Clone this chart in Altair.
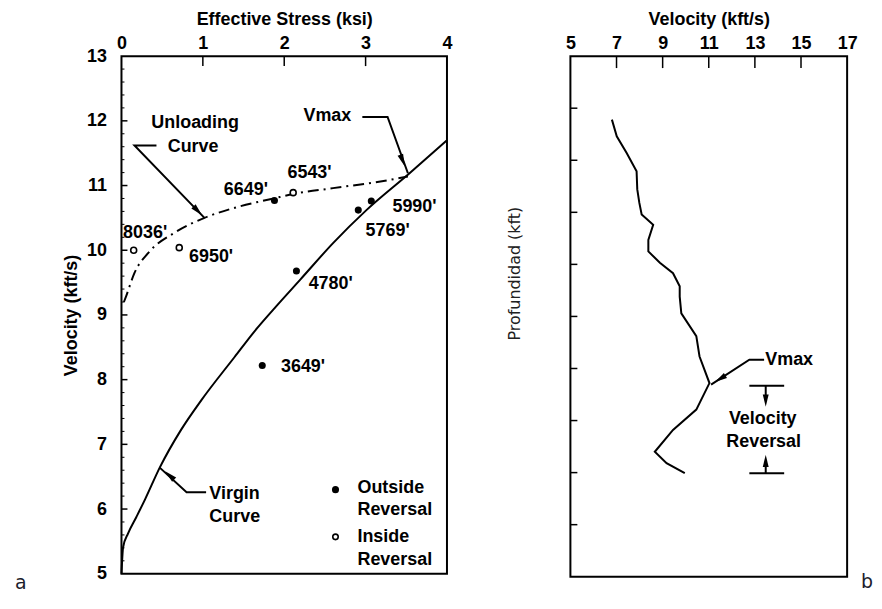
import altair as alt
import pandas as pd

FONT = "Liberation Sans"
FS = 18

# ---------------- Panel a data ----------------
virgin_s = [0.0, 0.02, 0.08, 0.18, 0.29, 0.47, 0.73, 0.98, 1.39, 1.63, 1.92, 2.20, 2.60, 3.01, 3.54, 4.0]
virgin_v = [5.0, 5.41, 5.62, 5.87, 6.15, 6.64, 7.22, 7.68, 8.35, 8.74, 9.16, 9.55, 10.11, 10.62, 11.19, 11.70]

unload_s = [0.03, 0.06, 0.16, 0.33, 0.65, 1.02, 1.46, 1.87, 2.11, 2.60, 3.22, 3.52]
unload_v = [9.20, 9.30, 9.65, 9.96, 10.27, 10.50, 10.68, 10.80, 10.87, 10.96, 11.07, 11.14]

out_names = ["6649'", "5990'", "5769'", "4780'", "3649'"]
out_s = [1.88, 3.07, 2.91, 2.15, 1.73]
out_v = [10.77, 10.76, 10.62, 9.68, 8.22]

in_names = ["6543'", "8036'", "6950'"]
in_s = [2.11, 0.15, 0.71]
in_v = [10.89, 10.00, 10.04]

# label anchors (data coordinates)
lab_names = ["6649'", "6543'", "5990'", "5769'", "8036'", "6950'", "4780'", "3649'"]
lab_s = [1.80, 2.04, 3.33, 3.00, 0.02, 0.83, 2.30, 1.96]
lab_v = [10.93, 11.19, 10.67, 10.29, 10.27, 9.90, 9.48, 8.20]
lab_align = ["right", "left", "left", "left", "left", "left", "left", "left"]

ann_a_text = ["Unloading", "Curve", "Vmax", "Virgin", "Curve", "Outside", "Reversal", "Inside", "Reversal"]
ann_a_s = [0.905, 0.88, 2.53, 1.08, 1.08, 2.90, 2.90, 2.90, 2.90]
ann_a_v = [11.97, 11.59, 12.08, 6.23, 5.87, 6.33, 5.98, 5.57, 5.21]
ann_a_align = ["center", "center", "center", "left", "left", "left", "left", "left", "left"]

lead_a_grp = ["U", "U", "U", "M", "M", "M", "G", "G", "G"]
lead_a_s = [0.43, 0.16, 1.02, 2.96, 3.27, 3.52, 1.04, 0.80, 0.47]
lead_a_v = [11.62, 11.62, 10.50, 12.06, 12.06, 11.19, 6.26, 6.26, 6.64]

head_a_s = [0.93, 3.45, 0.60]
head_a_v = [10.62, 11.40, 6.51]
head_a_ang = [136, 159, 313]

leg_s = [2.63, 2.63]
leg_v = [6.30, 5.57]
leg_kind = ["Outside Reversal", "Inside Reversal"]

xa_ticks = [0, 1, 2, 3, 4]
ya_ticks = [5, 6, 7, 8, 9, 10, 11, 12, 13]
xa_inner = [1, 2, 3]
ya_inner = [6, 7, 8, 9, 10, 11, 12]
ya_minor = [5.2, 5.4, 5.6, 5.8, 6.2, 6.4, 6.6, 6.8, 7.2, 7.4, 7.6, 7.8,
            8.2, 8.4, 8.6, 8.8, 9.2, 9.4, 9.6, 9.8, 10.2, 10.4, 10.6, 10.8,
            11.2, 11.4, 11.6, 11.8, 12.2, 12.4, 12.6, 12.8]

# ---------------- Panel b data ----------------
prof_v = [6.80, 7.01, 7.44, 7.87, 7.90, 7.99, 8.09, 8.59, 8.38, 8.38, 8.88, 9.45, 9.74,
          9.74, 9.81, 10.46, 10.60, 11.03, 10.46, 9.45, 8.66, 9.17, 9.96]
prof_d = [1.22, 1.54, 1.86, 2.21, 2.56, 2.82, 3.04, 3.24, 3.53, 3.75, 3.97, 4.17, 4.42,
          4.62, 4.94, 5.38, 5.77, 6.28, 6.79, 7.18, 7.60, 7.82, 8.01]

lead_b_grp = ["V", "V", "V", "T", "T", "B", "B", "S1", "S1", "S2", "S2"]
lead_b_v = [11.10, 12.76, 13.40, 12.76, 14.27, 12.76, 14.27, 13.47, 13.47, 13.47, 13.47]
lead_b_d = [6.31, 5.83, 5.83, 6.33, 6.33, 8.01, 8.01, 6.33, 6.60, 8.01, 7.79]

head_b_v = [11.53, 13.47, 13.47]
head_b_d = [6.19, 6.60, 7.79]
head_b_ang = [238, 180, 0]

ann_b_text = ["Vmax", "Velocity", "Reversal"]
ann_b_v = [13.45, 13.34, 13.38]
ann_b_d = [5.83, 6.98, 7.42]
ann_b_align = ["left", "center", "center"]

xb_ticks = [5, 7, 9, 11, 13, 15, 17]
xb_inner = [7, 9, 11, 13, 15]
yb_inner = [1, 2, 3, 4, 5, 6, 7, 8, 9]

ARROW = "M0,-1L0.42,0.75L-0.42,0.75Z"

# ---------------- encodings ----------------
axis_common = dict(tickSize=0, domain=False, grid=False, labelFlush=False,
                   labelFont=FONT, labelFontSize=FS, labelFontWeight="bold", labelColor="black",
                   titleFont=FONT, titleFontSize=FS, titleFontWeight="bold", titleColor="black")

XA = alt.Axis(orient="top", values=xa_ticks, title="Effective Stress (ksi)", format="d",
              labelPadding=4, titlePadding=6, **axis_common)
YA = alt.Axis(orient="left", values=ya_ticks, title="Velocity (kft/s)", format="d",
              labelPadding=15, titlePadding=6, **axis_common)
sxa = alt.Scale(domain=[0, 4], nice=False, zero=False)
sya = alt.Scale(domain=[5, 13], nice=False, zero=False)


def XAe(f):
    return alt.X(f, type="quantitative", scale=sxa, axis=XA)


def YAe(f):
    return alt.Y(f, type="quantitative", scale=sya, axis=YA)


virgin = pd.DataFrame({"s": virgin_s, "v": virgin_v})
unload = pd.DataFrame({"s": unload_s, "v": unload_v})
outs = pd.DataFrame({"s": out_s, "v": out_v, "n": out_names})
ins = pd.DataFrame({"s": in_s, "v": in_v, "n": in_names})
labs = pd.DataFrame({"s": lab_s, "v": lab_v, "n": lab_names, "al": lab_align})
anns = pd.DataFrame({"s": ann_a_s, "v": ann_a_v, "t": ann_a_text, "al": ann_a_align})
leads = pd.DataFrame({"s": lead_a_s, "v": lead_a_v, "g": lead_a_grp, "i": list(range(len(lead_a_s)))})
heads = pd.DataFrame({"s": head_a_s, "v": head_a_v, "ang": head_a_ang})
leg = pd.DataFrame({"s": leg_s, "v": leg_v, "k": leg_kind})

txt = dict(font=FONT, fontSize=FS, fontWeight="bold", baseline="middle", color="black")

l_virgin = alt.Chart(virgin).mark_line(color="black", strokeWidth=2, interpolate="monotone").encode(
    x=XAe("s"), y=YAe("v"))
l_unload = alt.Chart(unload).mark_line(color="black", strokeWidth=2, strokeDash=[11, 5, 2, 5],
                                       interpolate="monotone").encode(x=XAe("s"), y=YAe("v"))
p_out = alt.Chart(outs).mark_point(filled=True, color="black", size=50, opacity=1).encode(x=XAe("s"), y=YAe("v"))
p_in = alt.Chart(ins).mark_point(filled=True, fill="white", stroke="black", strokeWidth=1.6, size=36,
                                 opacity=1).encode(x=XAe("s"), y=YAe("v"))
t_lab_r = alt.Chart(labs[labs.al == "right"]).mark_text(align="right", **txt).encode(
    x=XAe("s"), y=YAe("v"), text="n")
t_lab_l = alt.Chart(labs[labs.al == "left"]).mark_text(align="left", **txt).encode(
    x=XAe("s"), y=YAe("v"), text="n")
t_ann_c = alt.Chart(anns[anns.al == "center"]).mark_text(align="center", **txt).encode(
    x=XAe("s"), y=YAe("v"), text="t")
t_ann_l = alt.Chart(anns[anns.al == "left"]).mark_text(align="left", **txt).encode(
    x=XAe("s"), y=YAe("v"), text="t")
l_leads = alt.Chart(leads).mark_line(color="black", strokeWidth=2).encode(
    x=XAe("s"), y=YAe("v"), detail="g", order="i")
p_heads = alt.Chart(heads).mark_point(shape=ARROW, filled=True, color="black", size=200, opacity=1).encode(
    x=XAe("s"), y=YAe("v"), angle=alt.Angle("ang", type="quantitative", scale=None))
p_leg_out = alt.Chart(leg[leg.k == "Outside Reversal"]).mark_point(filled=True, color="black", size=50,
                                                                     opacity=1).encode(x=XAe("s"), y=YAe("v"))
p_leg_in = alt.Chart(leg[leg.k == "Inside Reversal"]).mark_point(filled=True, fill="white", stroke="black",
                                                                   strokeWidth=1.6, size=30, opacity=1).encode(
    x=XAe("s"), y=YAe("v"))

r_xa = alt.Chart(pd.DataFrame({"t": xa_inner})).mark_rule(color="black", strokeWidth=1.5).encode(
    x=XAe("t"), y=alt.value(0), y2=alt.value(10))
r_ya = alt.Chart(pd.DataFrame({"t": ya_inner})).mark_rule(color="black", strokeWidth=1.5).encode(
    y=YAe("t"), x=alt.value(0), x2=alt.value(6))
r_yam = alt.Chart(pd.DataFrame({"t": ya_minor})).mark_rule(color="black", strokeWidth=1).encode(
    y=YAe("t"), x=alt.value(0), x2=alt.value(3))

tag_a = alt.Chart(pd.DataFrame({"s": [-1.31], "v": [4.86], "t": ["a"]})).mark_text(
    font="DejaVu Sans", fontSize=19, align="left", baseline="middle", color="#1c1c2c").encode(
    x=XAe("s"), y=YAe("v"), text="t")

left = alt.layer(r_yam, r_ya, r_xa, l_virgin, l_unload, l_leads, p_heads, p_out, p_in,
                 t_lab_r, t_lab_l, t_ann_c, t_ann_l, p_leg_out, p_leg_in, tag_a).properties(width=327, height=520)

# ---------------- Panel b ----------------
XB = alt.Axis(orient="top", values=xb_ticks, title="Velocity (kft/s)", format="d",
              labelPadding=4, titlePadding=6, **axis_common)
YB = alt.Axis(orient="left", values=yb_inner, title="Profundidad (kft)", labels=False, tickSize=0,
              domain=False, grid=False, titleFont="DejaVu Sans", titleFontSize=16, titleFontWeight="normal",
              titleColor="#202020", titlePadding=48, titleY=218)
sxb = alt.Scale(domain=[5, 17], nice=False, zero=False)
syb = alt.Scale(domain=[0, 10], nice=False, zero=False, reverse=True)


def XBe(f):
    return alt.X(f, type="quantitative", scale=sxb, axis=XB)


def YBe(f):
    return alt.Y(f, type="quantitative", scale=syb, axis=YB)


prof = pd.DataFrame({"v": prof_v, "d": prof_d, "i": list(range(len(prof_v)))})
leadb = pd.DataFrame({"v": lead_b_v, "d": lead_b_d, "g": lead_b_grp, "i": list(range(len(lead_b_v)))})
headb = pd.DataFrame({"v": head_b_v, "d": head_b_d, "ang": head_b_ang})
annb = pd.DataFrame({"v": ann_b_v, "d": ann_b_d, "t": ann_b_text, "al": ann_b_align})

l_prof = alt.Chart(prof).mark_line(color="black", strokeWidth=2).encode(x=XBe("v"), y=YBe("d"), order="i")
l_leadb = alt.Chart(leadb).mark_line(color="black", strokeWidth=2).encode(
    x=XBe("v"), y=YBe("d"), detail="g", order="i")
p_headb = alt.Chart(headb).mark_point(shape=ARROW, filled=True, color="black", size=200, opacity=1).encode(
    x=XBe("v"), y=YBe("d"), angle=alt.Angle("ang", type="quantitative", scale=None))
t_annb_l = alt.Chart(annb[annb.al == "left"]).mark_text(align="left", **txt).encode(
    x=XBe("v"), y=YBe("d"), text="t")
t_annb_c = alt.Chart(annb[annb.al == "center"]).mark_text(align="center", **txt).encode(
    x=XBe("v"), y=YBe("d"), text="t")
r_xb = alt.Chart(pd.DataFrame({"t": xb_inner})).mark_rule(color="black", strokeWidth=1.5).encode(
    x=XBe("t"), y=alt.value(0), y2=alt.value(12))
r_yb = alt.Chart(pd.DataFrame({"t": yb_inner})).mark_rule(color="black", strokeWidth=1.5).encode(
    y=YBe("t"), x=alt.value(0), x2=alt.value(7))
tag_b = alt.Chart(pd.DataFrame({"v": [17.6], "d": [10.11], "t": ["b"]})).mark_text(
    font="DejaVu Sans", fontSize=19, align="left", baseline="middle", color="#1c1c2c").encode(
    x=XBe("v"), y=YBe("d"), text="t")

right = alt.layer(r_xb, r_yb, l_prof, l_leadb, p_headb, t_annb_l, t_annb_c, tag_b).properties(
    width=278, height=523)

chart = alt.hconcat(left, right, spacing=51).properties(
    padding={"left": 5, "top": 0, "right": 0, "bottom": 0}
).configure(background="white").configure_view(stroke="black", strokeWidth=2)

chart.save("out.html", embed_options={"renderer": "svg", "actions": False})
